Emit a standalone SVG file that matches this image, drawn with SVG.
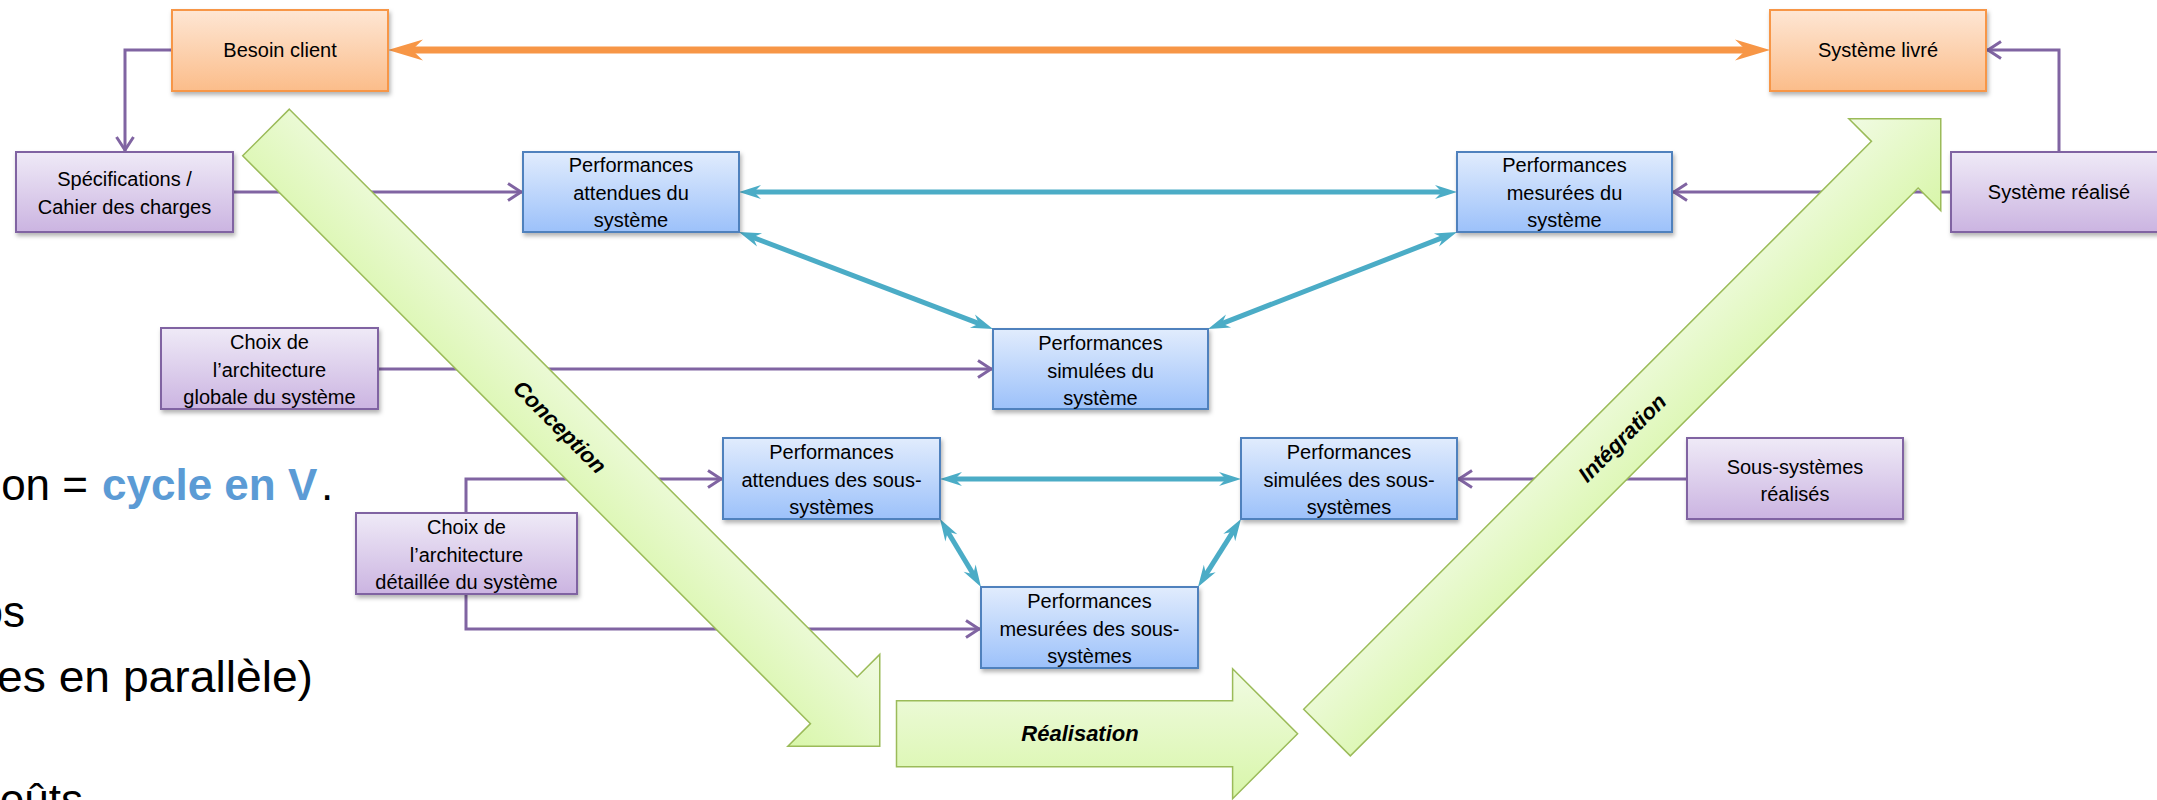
<svg xmlns="http://www.w3.org/2000/svg" width="2157" height="800" viewBox="0 0 2157 800">
  <style>
    .lbl { font-family: "Liberation Sans", Arial, sans-serif; font-size: 20px; fill: #000; text-anchor: middle; }
    .big { font-family: "Liberation Sans", Arial, sans-serif; font-size: 44px; fill: #000; }
    .bigblue { font-family: "Liberation Sans", Arial, sans-serif; font-size: 44px; font-weight: bold; fill: #5B9BD5; }
    .phase { font-family: "Liberation Sans", Arial, sans-serif; font-size: 22px; font-weight: bold; font-style: italic; fill: #000; text-anchor: middle; }
    .box-purple { fill: url(#gPurple); stroke: #8064A2; stroke-width: 2; filter: url(#shadow); }
    .box-orange { fill: url(#gOrange); stroke: #F79646; stroke-width: 2; filter: url(#shadow); }
    .box-blue { fill: url(#gBlue); stroke: #4F81BD; stroke-width: 2; filter: url(#shadow); }
    .big-arrow { fill: url(#gGreen); stroke: #9BBB59; stroke-width: 1.5; stroke-linejoin: miter; }
    .c-purple { fill: none; stroke: #8064A2; stroke-width: 3; marker-end: url(#mPurple); }
    .c-blue { fill: none; stroke: #4BACC6; stroke-width: 5; marker-start: url(#mBlue); marker-end: url(#mBlue); }
    .c-orange { fill: none; stroke: #F79646; stroke-width: 7; marker-start: url(#mOrange); marker-end: url(#mOrange); }
  </style>
  <defs>
    <linearGradient id="gPurple" x1="0" y1="0" x2="0" y2="1">
      <stop offset="0" stop-color="#EFEAF7"/>
      <stop offset="1" stop-color="#CBB4E1"/>
    </linearGradient>
    <linearGradient id="gOrange" x1="0" y1="0" x2="0" y2="1">
      <stop offset="0" stop-color="#FEE6D4"/>
      <stop offset="1" stop-color="#FBBD8A"/>
    </linearGradient>
    <linearGradient id="gBlue" x1="0" y1="0" x2="0" y2="1">
      <stop offset="0" stop-color="#E1ECFD"/>
      <stop offset="1" stop-color="#9CC1FA"/>
    </linearGradient>
    <linearGradient id="gGreen" x1="0" y1="0" x2="0" y2="1">
      <stop offset="0" stop-color="#F1FBE3"/>
      <stop offset="1" stop-color="#D8F6A9"/>
    </linearGradient>
    <filter id="shadow" x="-10%" y="-10%" width="125%" height="135%">
      <feDropShadow dx="1.5" dy="3" stdDeviation="2" flood-color="#000" flood-opacity="0.3"/>
    </filter>
    <!-- swept arrowheads; the line stops short of the tip -->
    <marker id="mOrange" markerUnits="userSpaceOnUse" viewBox="-40 -14 44 28" markerWidth="44" markerHeight="28" refX="-20" refY="0" orient="auto-start-reverse" overflow="visible">
      <path d="M0,0 L-35,-10.5 L-24,0 L-35,10.5 Z" fill="#F79646"/>
    </marker>
    <marker id="mBlue" markerUnits="userSpaceOnUse" viewBox="-26 -10 30 20" markerWidth="30" markerHeight="20" refX="-12" refY="0" orient="auto-start-reverse" overflow="visible">
      <path d="M0,0 L-22,-7 L-15,0 L-22,7 Z" fill="#4BACC6"/>
    </marker>
    <marker id="mPurple" markerUnits="userSpaceOnUse" viewBox="-18 -12 20 24" markerWidth="20" markerHeight="24" refX="0" refY="0" orient="auto" overflow="visible">
      <path d="M-14,-8.5 L-1,0 L-14,8.5" fill="none" stroke="#8064A2" stroke-width="3"/>
    </marker>
  </defs>

  <rect x="0" y="0" width="2157" height="800" fill="#FFFFFF"/>

  <!-- slide body text partly covered by the diagram -->
  <g id="slide-text">
    <text class="big" x="88" y="500" text-anchor="end">on =</text>
    <text class="bigblue" x="102" y="500">cycle en V</text>
    <text class="big" x="321" y="500">.</text>
    <text class="big" x="25" y="627" text-anchor="end">os</text>
    <text class="big" x="-3" y="692" textLength="316" lengthAdjust="spacingAndGlyphs">es en parallèle)</text>
    <text class="big" x="83" y="815" text-anchor="end">oûts</text>
  </g>

  <!-- connectors -->
  <g id="connectors">
    <path class="c-orange" d="M408,50 H1750"/>

    <path class="c-purple" d="M172,50 H125 V151"/>
    <path class="c-purple" d="M233,192 H522"/>
    <path class="c-purple" d="M1951,192 H1673"/>
    <path class="c-purple" d="M378,369 H992"/>
    <path class="c-purple" d="M466,513 V479 H722"/>
    <path class="c-purple" d="M466,594 V629 H980"/>
    <path class="c-purple" d="M1687,479 H1458"/>
    <path class="c-purple" d="M2059,152 V50 H1987"/>

    <path class="c-blue" d="M751,192 H1445"/>
    <path class="c-blue" d="M750.2,236.3 L981.8,324.7"/>
    <path class="c-blue" d="M1445.8,236.4 L1219.2,324.6"/>
    <path class="c-blue" d="M952,479 H1229"/>
    <path class="c-blue" d="M946.2,529.3 L974.8,576.7"/>
    <path class="c-blue" d="M1234.6,529.1 L1204.4,576.9"/>
  </g>

  <!-- phase arrows -->
  <g id="phase-conception" transform="translate(266,132.5) rotate(45)">
    <path class="big-arrow" d="M0,-33 H803 V-65 L868,0 L803,65 V33 H0 Z"/>
    <text class="phase" x="416" y="8">Conception</text>
  </g>
  <g id="phase-realisation">
    <path class="big-arrow" d="M896.5,700.7 H1232.6 V668.7 L1297.6,733.7 L1232.6,798.7 V766.7 H896.5 Z"/>
    <text class="phase" x="1080" y="741">Réalisation</text>
  </g>
  <g id="phase-integration" transform="translate(1327,732.5) rotate(-45)">
    <path class="big-arrow" d="M0,-33 H803 V-65 L868,0 L803,65 V33 H0 Z"/>
    <text class="phase" x="417" y="8">Intégration</text>
  </g>

  <!-- nodes -->
  <g id="besoin-client">
    <rect class="box-orange" x="172" y="10" width="216" height="81"/>
    <text class="lbl" x="280" y="57">Besoin client</text>
  </g>
  <g id="systeme-livre">
    <rect class="box-orange" x="1770" y="10" width="216" height="81"/>
    <text class="lbl" x="1878" y="57">Système livré</text>
  </g>
  <g id="specifications">
    <rect class="box-purple" x="16" y="152" width="217" height="80"/>
    <text class="lbl" x="124.5" y="186">Spécifications /</text>
    <text class="lbl" x="124.5" y="214">Cahier des charges</text>
  </g>
  <g id="perf-attendues-systeme">
    <rect class="box-blue" x="523" y="152" width="216" height="80"/>
    <text class="lbl" x="631" y="172">Performances</text>
    <text class="lbl" x="631" y="199.5">attendues du</text>
    <text class="lbl" x="631" y="227">système</text>
  </g>
  <g id="perf-mesurees-systeme">
    <rect class="box-blue" x="1457" y="152" width="215" height="80"/>
    <text class="lbl" x="1564.5" y="172">Performances</text>
    <text class="lbl" x="1564.5" y="199.5">mesurées du</text>
    <text class="lbl" x="1564.5" y="227">système</text>
  </g>
  <g id="systeme-realise">
    <rect class="box-purple" x="1951" y="152" width="216" height="80"/>
    <text class="lbl" x="2059" y="199">Système réalisé</text>
  </g>
  <g id="choix-archi-globale">
    <rect class="box-purple" x="161" y="328" width="217" height="81"/>
    <text class="lbl" x="269.5" y="349">Choix de</text>
    <text class="lbl" x="269.5" y="376.5">l’architecture</text>
    <text class="lbl" x="269.5" y="404">globale du système</text>
  </g>
  <g id="perf-simulees-systeme">
    <rect class="box-blue" x="993" y="329" width="215" height="80"/>
    <text class="lbl" x="1100.5" y="350">Performances</text>
    <text class="lbl" x="1100.5" y="377.5">simulées du</text>
    <text class="lbl" x="1100.5" y="405">système</text>
  </g>
  <g id="perf-attendues-ss">
    <rect class="box-blue" x="723" y="438" width="217" height="81"/>
    <text class="lbl" x="831.5" y="459">Performances</text>
    <text class="lbl" x="831.5" y="486.5">attendues des sous-</text>
    <text class="lbl" x="831.5" y="514">systèmes</text>
  </g>
  <g id="perf-simulees-ss">
    <rect class="box-blue" x="1241" y="438" width="216" height="81"/>
    <text class="lbl" x="1349" y="459">Performances</text>
    <text class="lbl" x="1349" y="486.5">simulées des sous-</text>
    <text class="lbl" x="1349" y="514">systèmes</text>
  </g>
  <g id="sous-systemes-realises">
    <rect class="box-purple" x="1687" y="438" width="216" height="81"/>
    <text class="lbl" x="1795" y="474">Sous-systèmes</text>
    <text class="lbl" x="1795" y="501">réalisés</text>
  </g>
  <g id="choix-archi-detaillee">
    <rect class="box-purple" x="356" y="513" width="221" height="81"/>
    <text class="lbl" x="466.5" y="534">Choix de</text>
    <text class="lbl" x="466.5" y="561.5">l’architecture</text>
    <text class="lbl" x="466.5" y="589">détaillée du système</text>
  </g>
  <g id="perf-mesurees-ss">
    <rect class="box-blue" x="981" y="587" width="217" height="81"/>
    <text class="lbl" x="1089.5" y="608">Performances</text>
    <text class="lbl" x="1089.5" y="635.5">mesurées des sous-</text>
    <text class="lbl" x="1089.5" y="663">systèmes</text>
  </g>
</svg>
